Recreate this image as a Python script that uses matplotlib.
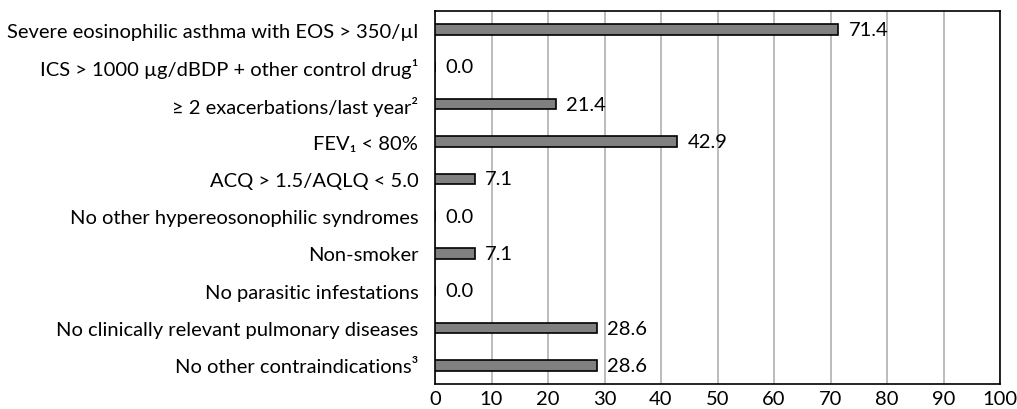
import matplotlib
matplotlib.use("Agg")
import matplotlib.pyplot as plt

plt.rcParams['font.family'] = ['Lato', 'DejaVu Sans']

# Criteria (top to bottom) and percentages
criteria = [
    "Severe eosinophilic asthma with EOS > 350/\u00b5l",
    "ICS > 1000 \u00b5g/dBDP + other control drug\u00b9",
    "\u2265 2 exacerbations/last year\u00b2",
    "FEV\u2081 < 80%",
    "ACQ > 1.5/AQLQ < 5.0",
    "No other hypereosonophilic syndromes",
    "Non-smoker",
    "No parasitic infestations",
    "No clinically relevant pulmonary diseases",
    "No other contraindications\u00b3",
]
values = [71.4, 0.0, 21.4, 42.9, 7.1, 0.0, 7.1, 0.0, 28.6, 28.6]
xticks = list(range(0, 101, 10))

FS = 14.5

fig = plt.figure(figsize=(10.17, 4.10), dpi=100)
ax = fig.add_axes([435 / 1017, 25 / 410, 565 / 1017, 373 / 410])

ypos = list(range(len(criteria)))
ax.barh(ypos, values, height=0.28, color='#808080', edgecolor='black', linewidth=1.2, zorder=3)

for y, v in zip(ypos, values):
    ax.text(v + 1.8, y, f"{v:.1f}", va='center', ha='left', fontsize=FS, zorder=4)

ax.set_xlim(0, 100)
ax.set_ylim(len(criteria) - 0.5, -0.5)
ax.set_xticks(xticks)
ax.set_yticks(ypos)
ax.set_yticklabels(criteria, fontsize=FS)
ax.tick_params(axis='x', length=0, labelsize=FS, pad=4)
ax.tick_params(axis='y', length=0, pad=12)
ax.xaxis.grid(True, color='#b0b0b0', linewidth=1.2, zorder=0)
ax.set_axisbelow(True)
for s in ax.spines.values():
    s.set_color('black')
    s.set_linewidth(1.2)

fig.savefig("out.png", dpi=100)
